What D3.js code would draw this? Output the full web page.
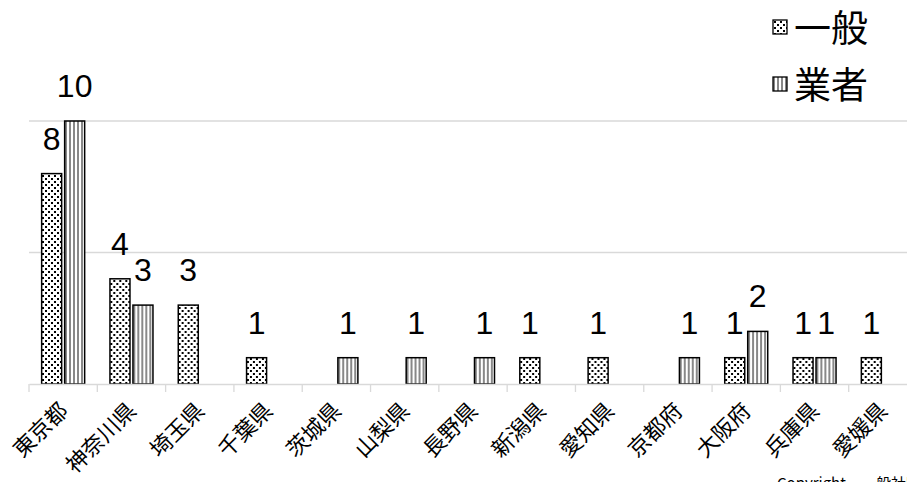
<!DOCTYPE html>
<html><head><meta charset="utf-8">
<script src="https://cdn.jsdelivr.net/npm/d3@7"></script>
<style>body{margin:0;background:#fff;}svg{display:block;font-family:"Noto Sans CJK JP","Noto Sans",sans-serif;}</style>
</head><body>
<svg id="c" width="907" height="482"></svg>
<script>
const categories = ["東京都","神奈川県","埼玉県","千葉県","茨城県","山梨県","長野県","新潟県","愛知県","京都府","大阪府","兵庫県","愛媛県"];
const seriesNames = ["一般","業者"];
const ippan = [8,4,3,1,0,0,0,1,1,0,1,1,1];
const gyosha = [10,3,0,0,1,1,1,0,0,1,2,1,0];
const gridTicks = [5,10];

const svg = d3.select("#c");
const defs = svg.append("defs");
const dots = defs.append("pattern").attr("id","dots").attr("patternUnits","userSpaceOnUse").attr("width",6).attr("height",6);
dots.append("rect").attr("width",6).attr("height",6).attr("fill","#fff");
dots.append("rect").attr("x",1).attr("y",1).attr("width",2).attr("height",2).attr("fill","#000");
dots.append("rect").attr("x",4).attr("y",4).attr("width",2).attr("height",2).attr("fill","#000");
const stripes = defs.append("pattern").attr("id","stripes").attr("patternUnits","userSpaceOnUse").attr("width",4).attr("height",4);
stripes.append("rect").attr("width",4).attr("height",4).attr("fill","#fff");
stripes.append("rect").attr("x",0).attr("width",2).attr("height",4).attr("fill","#888");
const fills = {"一般":"url(#dots)","業者":"url(#stripes)"};

const x0 = d3.scaleBand().domain(categories).range([29,917]).paddingInner(0).paddingOuter(0);
const bw = x0.bandwidth();
const x1 = d3.scaleBand().domain(seriesNames).range([bw/2-21.5, bw/2+21.5]).paddingInner(0.13);
const y = d3.scaleLinear().domain([0,10]).range([384,121]);

// gridlines
svg.append("g").selectAll("line").data(gridTicks).join("line")
  .attr("x1",29).attr("x2",917).attr("y1",d=>y(d)).attr("y2",d=>y(d))
  .attr("stroke","#d9d9d9").attr("stroke-width",1.3);

const data = categories.map((c,i)=>({cat:c, vals:[{s:"一般",v:ippan[i]},{s:"業者",v:gyosha[i]}]}));
const g = svg.append("g");
const grp = g.selectAll("g").data(data).join("g").attr("transform",d=>`translate(${x0(d.cat)},0)`);
grp.selectAll("rect").data(d=>d.vals.filter(e=>e.v>0)).join("rect")
  .attr("x",e=>x1(e.s)).attr("width",x1.bandwidth())
  .attr("y",e=>y(e.v)).attr("height",e=>y(0)-y(e.v))
  .attr("fill",e=>fills[e.s]).attr("stroke","#000").attr("stroke-width",1.5);
grp.selectAll("text").data(d=>d.vals.filter(e=>e.v>0)).join("text")
  .attr("x",e=>x1(e.s)+x1.bandwidth()/2).attr("y",e=>y(e.v)-24)
  .attr("text-anchor","middle").attr("font-size",32).attr("fill","#000")
  .attr("font-family","'Liberation Sans',Arial,sans-serif")
  .text(e=>e.v);

// axis
const xAxis = d3.axisBottom(x0).tickSize(0).tickFormat("");
const ax = svg.append("g").attr("transform","translate(0,384)").call(xAxis);
ax.select(".domain").attr("stroke","#d9d9d9").attr("stroke-width",1.3);
const bounds = categories.map(c=>x0(c)).concat([x0(categories[categories.length-1])+bw]);
ax.selectAll(".bt").data(bounds).join("line").attr("class","bt")
  .attr("x1",d=>d).attr("x2",d=>d).attr("y1",0).attr("y2",8)
  .attr("stroke","#d9d9d9").attr("stroke-width",1.3);
svg.append("g").selectAll("text").data(categories).join("text")
  .attr("transform",c=>`translate(${x0(c)+bw/2-1},405) rotate(-45)`)
  .attr("text-anchor","end").attr("dominant-baseline","central")
  .attr("font-size",22).attr("fill","#000").text(c=>c);

// legend
const leg = svg.append("g").selectAll("g").data(seriesNames).join("g")
  .attr("transform",(d,i)=>`translate(773,${20+i*57})`);
leg.append("rect").attr("width",14).attr("height",14).attr("fill",d=>fills[d]).attr("stroke","#000").attr("stroke-width",1.3);
leg.append("text").attr("x",21).attr("y",6).attr("dominant-baseline","central")
  .attr("font-size",37).attr("fill","#000").text(d=>d);

svg.append("text").attr("x",777).attr("y",489).attr("font-size",15).attr("fill","#000").text("Copyright　一般社団法人");
</script>
</body></html>
